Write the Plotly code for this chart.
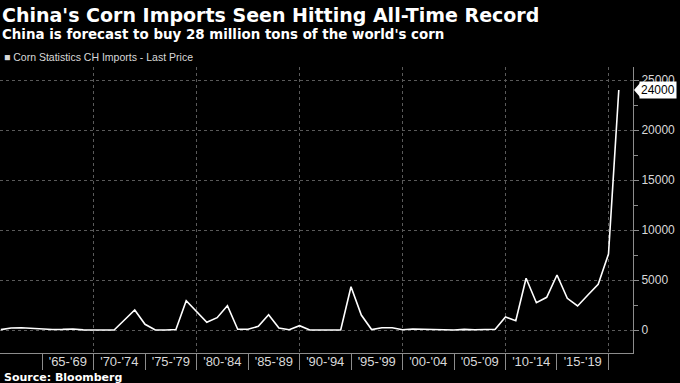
import plotly.graph_objects as go

# ---- data ----
years = list(range(1961, 2022))
imports = [40, 200, 230, 170, 80, 50, 60, 100, 10, 0,
           0, 0, 1000, 2000, 570, 0, 0, 50, 2930, 1830,
           770, 1230, 2430, 70, 70, 370, 1530, 200, 30, 430,
           0, 0, 0, 0, 4330, 1500, 50, 230, 230, 30,
           100, 50, 0, 20, 0, 60, 20, 40, 70, 1300,
           930, 5170, 2730, 3270, 5500, 3170, 2400, 3500, 4570, 7600,
           24000]
period_starts = [1965, 1970, 1975, 1980, 1985, 1990, 1995, 2000, 2005, 2010, 2015, 2020]
period_labels = ["'65-'69", "'70-'74", "'75-'79", "'80-'84", "'85-'89", "'90-'94",
                 "'95-'99", "'00-'04", "'05-'09", "'10-'14", "'15-'19"]
grid_years = [1970, 1980, 1990, 2000, 2010, 2020]
y_ticks = [0, 5000, 10000, 15000, 20000, 25000]
y_tick_text = ["0", "5000", "10000", "15000", "20000", "25000"]

title = "China's Corn Imports Seen Hitting All-Time Record"
subtitle = "China is forecast to buy 28 million tons of the world's corn"
series_name = "Corn Statistics CH Imports - Last Price"
source = "Source: Bloomberg"

FONT = "DejaVu Sans"
FONT2 = "Liberation Sans"
AXIS_COL = "#8c8c8c"
GRID_COL = "#5a5a5a"
TXT_COL = "#d9d9d9"

xr = [1960.92, 2022.38]
yr = [-2300, 26300]

fig = go.Figure()
fig.add_trace(go.Scatter(x=years, y=imports, mode="lines",
                         line=dict(color="white", width=1.6),
                         name=series_name, showlegend=False, hoverinfo="skip"))

mids = [s + 2.5 for s in period_starts[:-1]]

fig.update_layout(
    width=680, height=383,
    paper_bgcolor="black", plot_bgcolor="black",
    margin=dict(l=0, r=47, t=67, b=30, autoexpand=False),
    font=dict(family=FONT2, color=TXT_COL),
    xaxis=dict(range=xr, tickvals=mids, ticktext=period_labels, ticks="",
               showgrid=False, zeroline=False, showline=True, linecolor=AXIS_COL,
               linewidth=1, automargin=False, ticklabelstandoff=-4,
               tickfont=dict(size=13, color=TXT_COL, family=FONT2)),
    xaxis2=dict(range=xr, overlaying="x", matches="x", side="bottom", anchor="y",
                tickvals=period_starts, showticklabels=False, ticks="outside",
                ticklen=16, tickcolor=AXIS_COL, tickwidth=1, showgrid=False,
                zeroline=False, showline=False, automargin=False),
    xaxis3=dict(range=xr, overlaying="x", matches="x", side="bottom", anchor="y",
                tickvals=grid_years, showticklabels=False, ticks="",
                showgrid=True, gridcolor=GRID_COL, griddash="dot", gridwidth=1,
                zeroline=False, showline=False, automargin=False),
    yaxis=dict(range=yr, side="right", tickvals=y_ticks, ticktext=y_tick_text,
               ticks="outside", ticklen=5, automargin=False,
               tickcolor=AXIS_COL, showline=True, linecolor=AXIS_COL, linewidth=1,
               showgrid=True, gridcolor=GRID_COL, griddash="dot", zeroline=False,
               tickfont=dict(size=12, color=TXT_COL, family=FONT2),
               minor=dict(dtick=2500, tick0=0, ticks="outside", ticklen=4,
                          tickcolor=AXIS_COL, showgrid=False)),
)

# invisible traces to realize overlay axes
fig.add_trace(go.Scatter(x=[years[0]], y=[imports[0]], xaxis="x2", yaxis="y",
                         mode="markers", marker=dict(opacity=0), showlegend=False,
                         hoverinfo="skip"))
fig.add_trace(go.Scatter(x=[years[0]], y=[imports[0]], xaxis="x3", yaxis="y",
                         mode="markers", marker=dict(opacity=0), showlegend=False,
                         hoverinfo="skip"))

# titles
fig.add_annotation(text="<b>" + title + "</b>", xref="paper", yref="paper",
                   x=0, y=1.182, xanchor="left", yanchor="middle", showarrow=False,
                   font=dict(size=19, color="white", family=FONT))
fig.add_annotation(text="<b>" + subtitle + "</b>", xref="paper", yref="paper",
                   x=0, y=1.112, xanchor="left", yanchor="middle", showarrow=False,
                   font=dict(size=13.4, color="white", family=FONT))
fig.add_annotation(text="■ " + series_name, xref="paper", yref="paper",
                   x=0.003, y=1.035, xanchor="left", yanchor="middle", showarrow=False,
                   font=dict(size=10.5, color=TXT_COL, family=FONT2))
fig.add_annotation(text="<b>" + source + "</b>", xref="paper", yref="paper",
                   x=0.003, y=-0.084, xanchor="left", yanchor="middle", showarrow=False,
                   font=dict(size=11, color="white", family=FONT))

# last-price tag
last = imports[-1]
fig.add_shape(type="path", xref="paper", yref="y", xsizemode="pixel", ysizemode="pixel",
              xanchor=1, yanchor=last, path="M1,0 L7,7 L7,-7 Z",
              fillcolor="white", line=dict(width=0), layer="above")
fig.add_annotation(text=f"{last}", xref="paper", yref="y", x=1, y=last, xshift=6,
                   xanchor="left", yanchor="middle", showarrow=False,
                   bgcolor="white", borderpad=1,
                   font=dict(size=12, color="black", family=FONT2))

fig.write_html("out.html", config={"displayModeBar": False},
               post_script="document.body.style.margin='0';document.body.style.overflow='hidden';")
